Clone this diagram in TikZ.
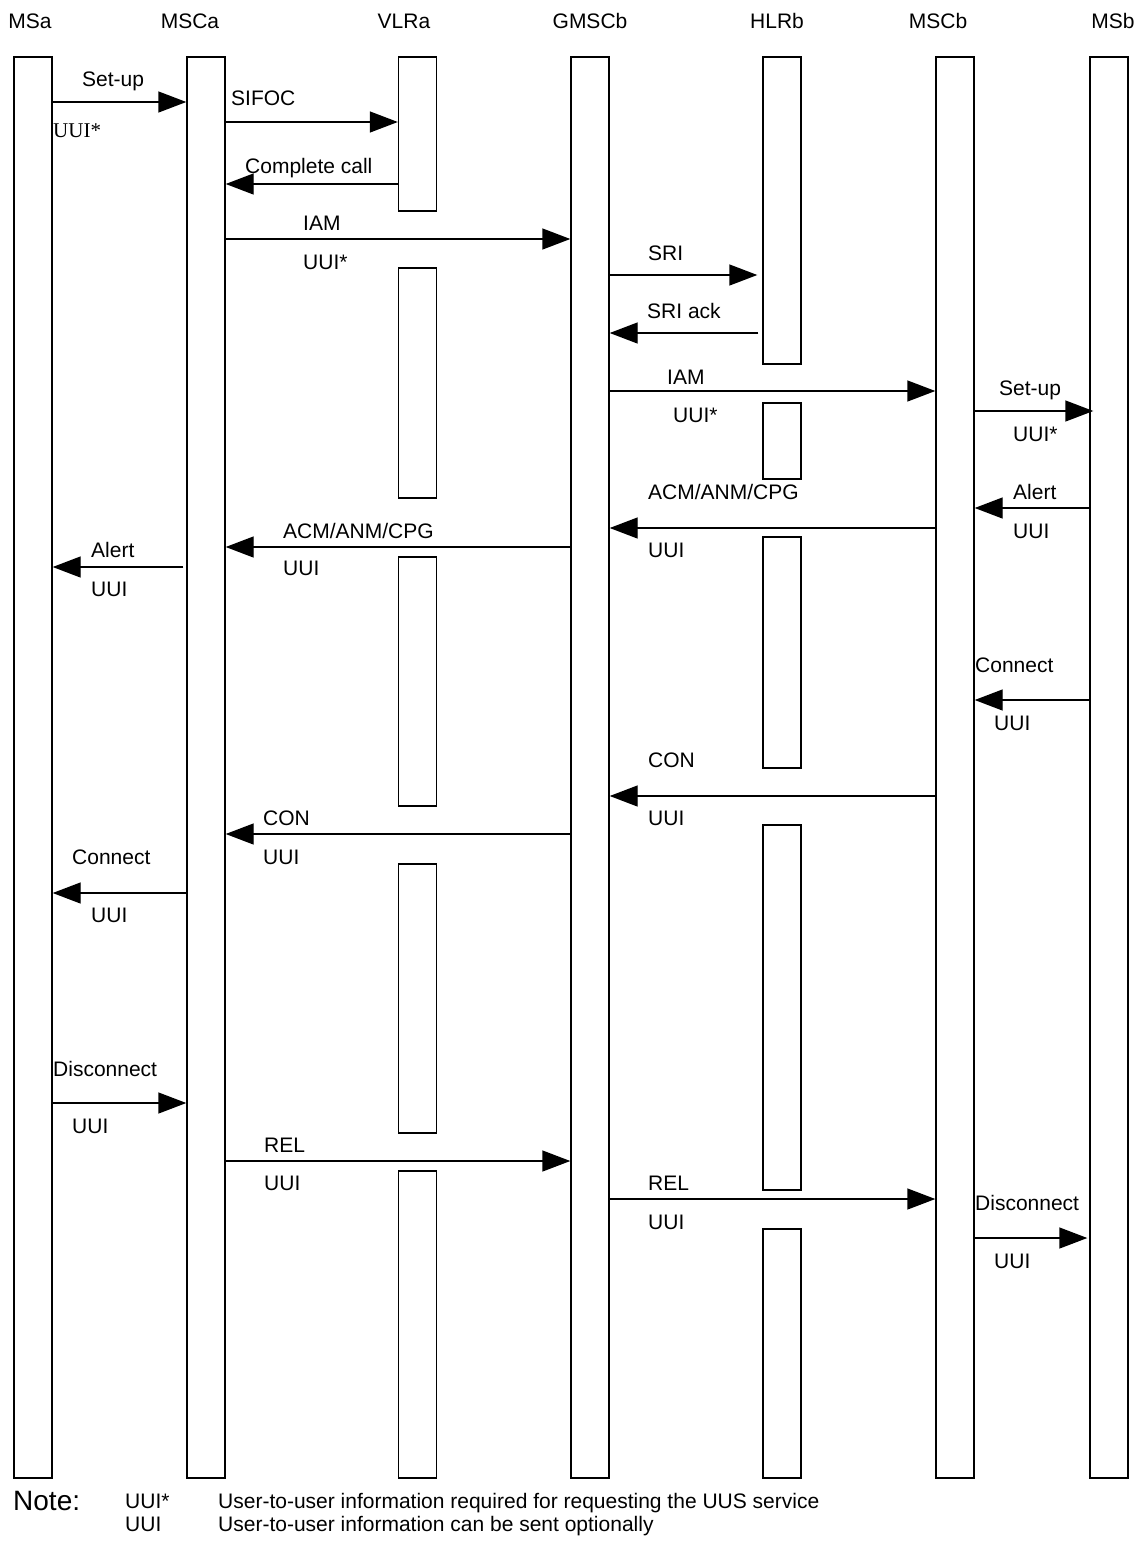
\documentclass[tikz,border=0pt]{standalone}
\usepackage{fontspec}
\setmainfont{Liberation Sans}
\newfontfamily\timesfont{Liberation Serif}
\usetikzlibrary{arrows.meta}
\begin{document}
\begin{tikzpicture}[x=1pt,y=-1pt,
  lifebox/.style={draw, line width=1.4pt, inner sep=0pt, minimum width=38pt},
  msg/.style={line width=1.4pt, -{Triangle[length=28pt,width=21pt]}},
  lbl/.style={anchor=base west, inner sep=0pt, font=\fontsize{21}{25}\selectfont},
  hdr/.style={anchor=base, inner sep=0pt, font=\fontsize{21}{25}\selectfont},
  notebig/.style={anchor=base west, inner sep=0pt, font=\fontsize{28}{32}\selectfont}]
\useasboundingbox[fill=white] (0,0) rectangle (1144,1542);

% headers
\node[hdr] (hMSa)   at (30,28.5)   {MSa};
\node[hdr] (hMSCa)  at (190,28.5)  {MSCa};
\node[hdr] (hVLRa)  at (404,28.5)  {VLRa};
\node[hdr] (hGMSCb) at (590,28.5)  {GMSCb};
\node[hdr] (hHLRb)  at (777,28.5)  {HLRb};
\node[hdr] (hMSCb)  at (938,28.5)  {MSCb};
\node[hdr] (hMSb)   at (1113,28.5) {MSb};

% lifelines
\node[lifebox, minimum height=1421pt] (MSa)   at (33,767.5)   {};
\node[lifebox, minimum height=1421pt] (MSCa)  at (206,767.5)  {};
\node[lifebox, minimum height=1421pt] (GMSCb) at (590,767.5)  {};
\node[lifebox, minimum height=1421pt] (MSCb)  at (955,767.5)  {};
\node[lifebox, minimum height=1421pt] (MSb)   at (1109,767.5) {};

\node[lifebox, minimum height=154pt] (VLRa1) at (417.5,134)    {};
\node[lifebox, minimum height=230pt] (VLRa2) at (417.5,383)    {};
\node[lifebox, minimum height=249pt] (VLRa3) at (417.5,681.5)  {};
\node[lifebox, minimum height=269pt] (VLRa4) at (417.5,998.5)  {};
\node[lifebox, minimum height=307pt] (VLRa5) at (417.5,1324.5) {};

\node[lifebox, minimum height=307pt] (HLRb1) at (782,210.5)  {};
\node[lifebox, minimum height=76pt]  (HLRb2) at (782,441)    {};
\node[lifebox, minimum height=231pt] (HLRb3) at (782,652.5)  {};
\node[lifebox, minimum height=365pt] (HLRb4) at (782,1007.5) {};
\node[lifebox, minimum height=249pt] (HLRb5) at (782,1353.5) {};

% message rows
\coordinate (m1) at (0,102);
\coordinate (m2) at (0,122);
\coordinate (m3) at (0,184);
\coordinate (m4) at (0,239);
\coordinate (m5) at (0,275);
\coordinate (m6) at (0,333);
\coordinate (m7) at (0,391);
\coordinate (m8) at (0,411);
\coordinate (m9) at (0,508);
\coordinate (m10) at (0,528);
\coordinate (m11) at (0,547);
\coordinate (m12) at (0,567);
\coordinate (m13) at (0,700);
\coordinate (m14) at (0,796);
\coordinate (m15) at (0,834);
\coordinate (m16) at (0,893);
\coordinate (m17) at (0,1103);
\coordinate (m18) at (0,1161);
\coordinate (m19) at (0,1199);
\coordinate (m20) at (0,1238);

% arrows
\draw[msg] (MSa.east |- m1) -- (MSCa.west |- m1);
\draw[msg] (MSCa.east |- m2) -- (VLRa1.west |- m2);
\draw[msg] (VLRa1.west |- m3) -- (MSCa.east |- m3);
\draw[msg] (MSCa.east |- m4) -- (GMSCb.west |- m4);
\draw[msg, shorten >=5pt] (GMSCb.east |- m5) -- (HLRb1.west |- m5);
\draw[msg, shorten <=4pt] (HLRb1.west |- m6) -- (GMSCb.east |- m6);
\draw[msg] (GMSCb.east |- m7) -- (MSCb.west |- m7);
\draw[msg, shorten >=-4pt] (MSCb.east |- m8) -- (MSb.west |- m8);
\draw[msg] (MSb.west |- m9) -- (MSCb.east |- m9);
\draw[msg] (MSCb.west |- m10) -- (GMSCb.east |- m10);
\draw[msg] (GMSCb.west |- m11) -- (MSCa.east |- m11);
\draw[msg, shorten <=3pt] (MSCa.west |- m12) -- (MSa.east |- m12);
\draw[msg] (MSb.west |- m13) -- (MSCb.east |- m13);
\draw[msg] (MSCb.west |- m14) -- (GMSCb.east |- m14);
\draw[msg] (GMSCb.west |- m15) -- (MSCa.east |- m15);
\draw[msg] (MSCa.west |- m16) -- (MSa.east |- m16);
\draw[msg] (MSa.east |- m17) -- (MSCa.west |- m17);
\draw[msg] (MSCa.east |- m18) -- (GMSCb.west |- m18);
\draw[msg] (GMSCb.east |- m19) -- (MSCb.west |- m19);
\draw[msg, shorten >=2pt] (MSCb.east |- m20) -- (MSb.west |- m20);

% labels
\node[lbl] (l1) at (82,86.5) {Set-up};
\node[lbl, font=\timesfont\fontsize{21}{25}\selectfont] (u1) at (53,137.5) {UUI*};
\node[lbl] (l2) at (231,105) {SIFOC};
\node[lbl] (l3) at (245,173) {Complete call};
\node[lbl] (l4) at (303,230.5) {IAM};
\node[lbl] (u4) at (303,269) {UUI*};
\node[lbl] (l5) at (648,260.5) {SRI};
\node[lbl] (l6) at (647,318.5) {SRI ack};
\node[lbl] (l7) at (667,384) {IAM};
\node[lbl] (u7) at (673,422.5) {UUI*};
\node[lbl] (l8) at (999,395) {Set-up};
\node[lbl] (u8) at (1013,441.5) {UUI*};
\node[lbl] (l9) at (1013,499) {Alert};
\node[lbl] (u9) at (1013,538.5) {UUI};
\node[lbl] (l10) at (648,499) {ACM/ANM/CPG};
\node[lbl] (u10) at (648,557.5) {UUI};
\node[lbl] (l11) at (283,538) {ACM/ANM/CPG};
\node[lbl] (u11) at (283,575.5) {UUI};
\node[lbl] (l12) at (91,557.5) {Alert};
\node[lbl] (u12) at (91,596.5) {UUI};
\node[lbl] (l13) at (975,672.5) {Connect};
\node[lbl] (u13) at (994,730) {UUI};
\node[lbl] (l14) at (648,767.5) {CON};
\node[lbl] (u14) at (648,825.5) {UUI};
\node[lbl] (l15) at (263,825.5) {CON};
\node[lbl] (u15) at (263,864) {UUI};
\node[lbl] (l16) at (72,864) {Connect};
\node[lbl] (u16) at (91,922.5) {UUI};
\node[lbl] (l17) at (53,1076.5) {Disconnect};
\node[lbl] (u17) at (72,1133.5) {UUI};
\node[lbl] (l18) at (264,1152.5) {REL};
\node[lbl] (u18) at (264,1190.5) {UUI};
\node[lbl] (l19) at (648,1190.5) {REL};
\node[lbl] (u19) at (648,1229) {UUI};
\node[lbl] (l20) at (975,1210) {Disconnect};
\node[lbl] (u20) at (994,1268) {UUI};

% note
\node[notebig] (note) at (13,1510) {Note:};
\node[lbl] (n1k) at (125,1508) {UUI*};
\node[lbl] (n1t) at (218,1508) {User-to-user information required for requesting the UUS service};
\node[lbl] (n2k) at (125,1531) {UUI};
\node[lbl] (n2t) at (218,1531) {User-to-user information can be sent optionally};
\end{tikzpicture}
\end{document}
